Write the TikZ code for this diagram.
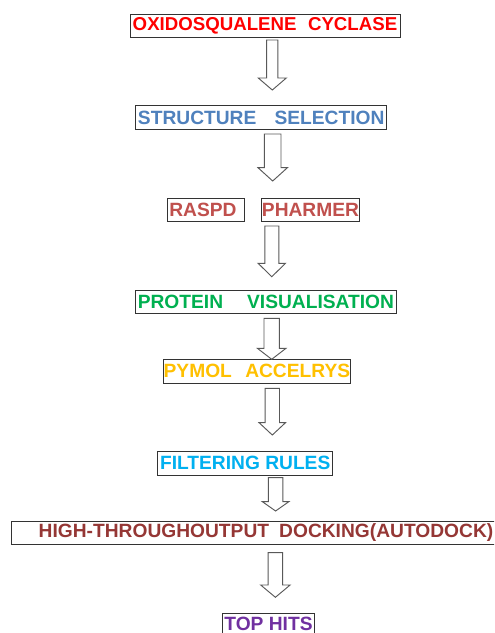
\documentclass[tikz,border=0pt]{standalone}
\usepackage{fontspec}
\setmainfont{Liberation Sans}
\definecolor{cRed}{HTML}{FF0000}
\definecolor{cBlue}{HTML}{4F81BD}
\definecolor{cBrick}{HTML}{C0504D}
\definecolor{cGreen}{HTML}{00B050}
\definecolor{cOrange}{HTML}{FFC000}
\definecolor{cCyan}{HTML}{00B0F0}
\definecolor{cMaroon}{HTML}{953735}
\definecolor{cPurple}{HTML}{7030A0}
\newcommand\flowarrow[6]{% cx, shaft half width, head half width, top, head start, tip
  \draw[blockarrow] ({#1-#2},#4) -- ({#1+#2},#4) -- ({#1+#2},#5) -- ({#1+#3},#5)
    -- (#1,#6) -- ({#1-#3},#5) -- ({#1-#2},#5) -- cycle;}
\begin{document}
\begin{tikzpicture}[x=0.75pt,y=-0.75pt,
  box/.style={draw=black!80, line width=0.75pt, fill=white, inner sep=0pt,
    font=\fontsize{14.4}{16}\selectfont\bfseries, minimum height=17.6pt},
  blockarrow/.style={draw=black!65, line width=0.7pt, fill=white, line join=miter}]
\useasboundingbox (0,0) rectangle (494,633);
\clip (0,0) rectangle (494,633);
\fill[white] (0,0) rectangle (494,633);
\node[box, text=cRed, minimum width=202.5pt, font=\fontsize{14}{16}\selectfont\bfseries] (osc) at (265,25.8)
  {OXIDOSQUALENE\hspace{8.6pt}CYCLASE};
\node[box, text=cBlue, minimum width=188pt] (sel) at (261.2,117.5)
  {STRUCTURE\hspace{13.6pt}SELECTION};
\node[box, text=cBrick, text width=55.5pt, align=left, inner xsep=1.2pt] (raspd) at (206.3,210)
  {RASPD};
\node[box, text=cBrick, minimum width=73.2pt] (pharmer) at (310.5,210)
  {PHARMER};
\node[box, text=cGreen, minimum width=195.2pt] (vis) at (265.9,302)
  {PROTEIN\hspace{18pt}VISUALISATION};
\node[box, text=cOrange, minimum width=140.3pt] (pymol) at (256.9,371.3)
  {PYMOL\hspace{10pt}ACCELRYS};
\node[box, text=cCyan, minimum width=131.2pt] (filt) at (245.2,463.3)
  {FILTERING RULES};
\node[box, text=cMaroon, minimum width=382.5pt] (dock) at (266,532.8)
  {HIGH-THROUGHOUTPUT\hspace{7.6pt}DOCKING(AUTODOCK)};
\node[box, text=cPurple, minimum width=68.7pt, minimum height=16.5pt] (hits) at (268.5,624.3)
  {TOP HITS};
\flowarrow{272.3}{5.6}{14}{40}{78}{90}
\flowarrow{272.7}{8.3}{14.7}{134}{167.7}{181}
\flowarrow{271.8}{7}{13.7}{226}{263.3}{276.7}
\flowarrow{271.7}{7.7}{14.3}{318.3}{348.3}{359.3}
\flowarrow{272.3}{7.2}{13.2}{388.3}{422.7}{435}
\flowarrow{275.6}{7.2}{13.2}{477.7}{501.7}{511}
\flowarrow{275.4}{7.2}{14.7}{552.7}{585}{597.3}
\end{tikzpicture}
\end{document}
